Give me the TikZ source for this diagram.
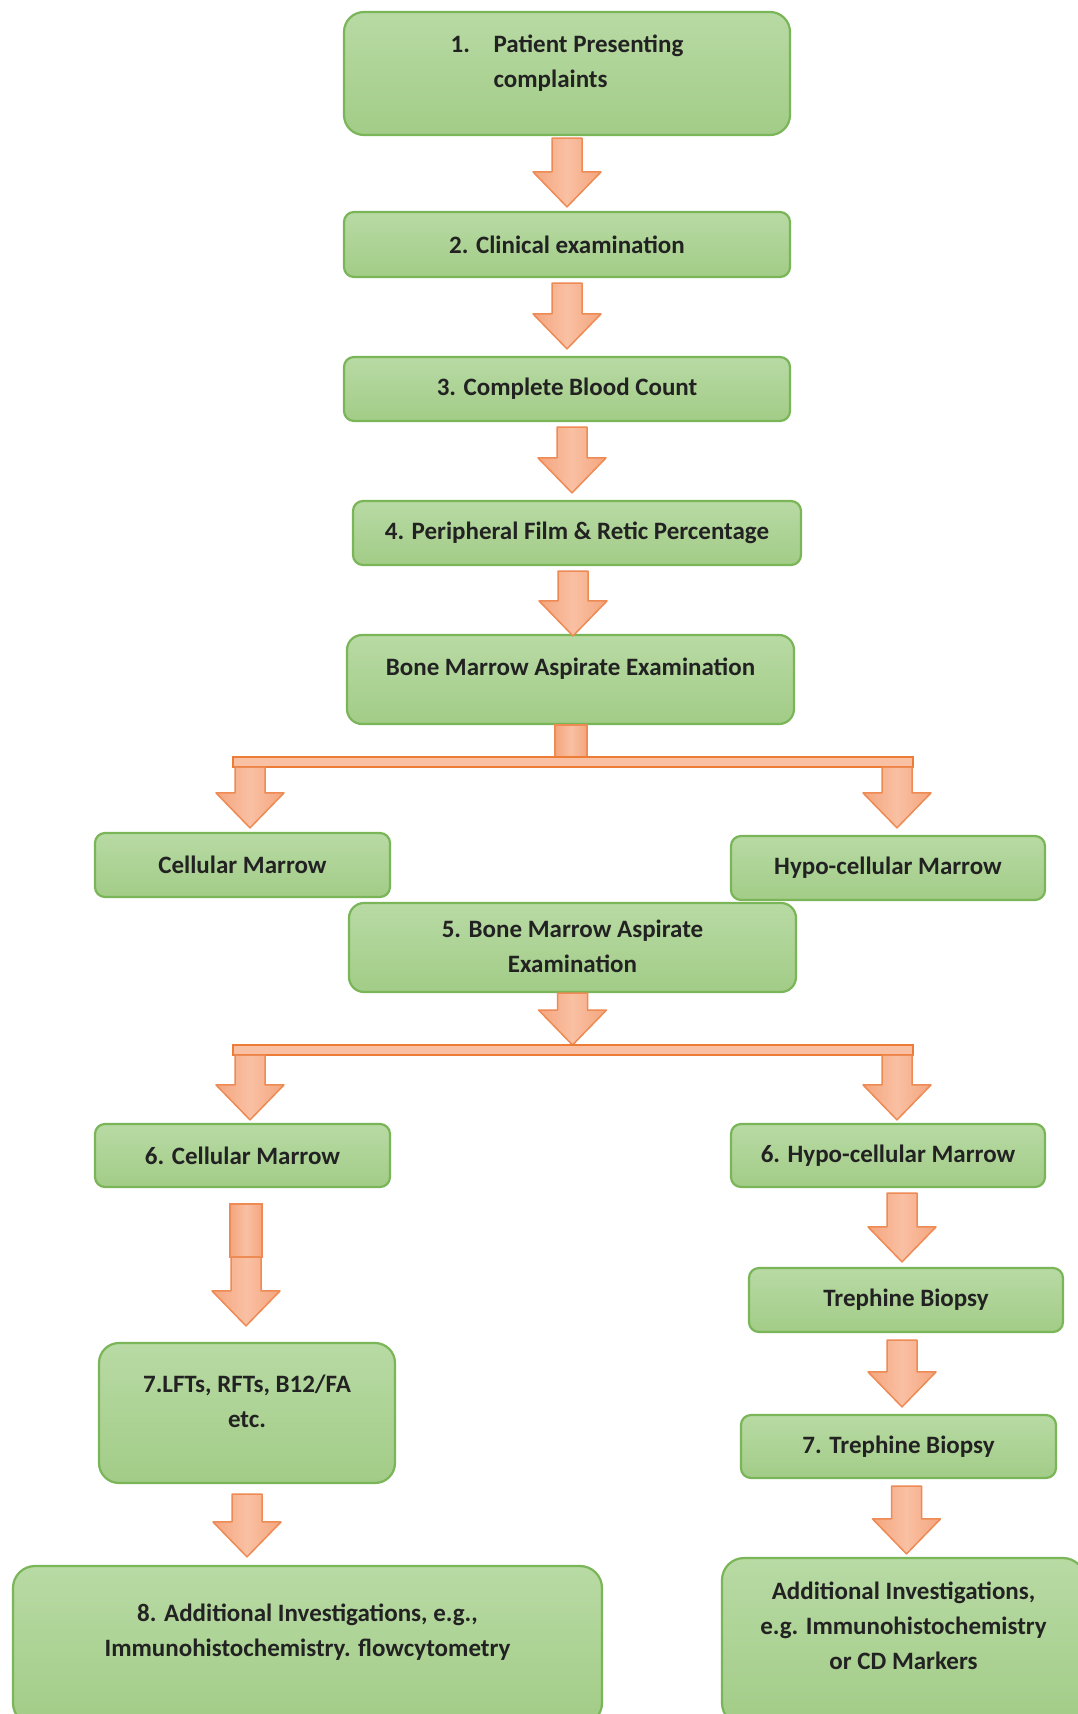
\documentclass[tikz,border=0pt]{standalone}
\usepackage{fontspec}
\setmainfont{Carlito}
\usetikzlibrary{calc}

\definecolor{boxtop}{HTML}{B8DAA4}
\definecolor{boxbot}{HTML}{A2CC87}
\definecolor{boxline}{HTML}{7AB558}
\definecolor{boxtext}{HTML}{222222}
\definecolor{arrowside}{HTML}{F4A57D}
\definecolor{arrowmid}{HTML}{F9C0A3}
\definecolor{arrowline}{HTML}{EE8A54}
\definecolor{barline}{HTML}{EC7C36}

\newcommand{\liftup}[2]{\raisebox{#1}[\height][\depth]{#2}}

\tikzset{
	flowbox/.style={draw=boxline, line width=2.2pt, rounded corners=10pt,
		top color=boxtop, bottom color=boxbot, text=boxtext, inner sep=0pt,
		font=\fontsize{25}{35}\selectfont\bfseries},
	bigarrow/.style={draw=arrowline, line width=1.5pt, line join=round,
		left color=arrowside, right color=arrowside, middle color=arrowmid,
		to path={let \p1=(\tikztostart), \p2=(\tikztotarget) in
			(\x1-15pt,\y1) -- (\x1+15pt,\y1) -- (\x1+15pt,\y2+35pt) -- (\x1+34pt,\y2+35pt)
			-- (\x1,\y2) -- (\x1-34pt,\y2+35pt) -- (\x1-15pt,\y2+35pt) -- cycle}},
	stem/.style={draw=arrowline, line width=1.5pt,
		left color=arrowside, right color=arrowside, middle color=arrowmid,
		to path={let \p1=(\tikztostart), \p2=(\tikztotarget) in
			(\x1-16pt,\y1) rectangle (\x1+16pt,\y2)}},
	splitbar/.style={draw=barline, line width=2.6pt, fill=arrowmid},
}

\begin{document}
\begin{tikzpicture}[x=1pt, y=-1pt]
	
	% Frame
	\useasboundingbox (0,0) rectangle (1078,1714);
	\clip (0,0) rectangle (1078,1714);
	\fill[white] (0,0) rectangle (1078,1714);
	
	%% MAIN COLUMN
	\node[flowbox, rounded corners=20pt, minimum width=446pt, minimum height=123pt] (patient) at (567,73.5)
		{\liftup{11pt}{\begin{tabular}{@{}l@{}}\makebox[43pt][l]{1.}Patient Presenting\\\hspace*{43pt}complaints\end{tabular}}};
	\node[flowbox, minimum width=446pt, minimum height=65pt] (clinical) at (567,244.5) {2. Clinical examination};
	\node[flowbox, minimum width=446pt, minimum height=64pt] (cbc) at (567,389) {3. Complete Blood Count};
	\node[flowbox, minimum width=448pt, minimum height=64pt] (film) at (577,533) {4. Peripheral Film \& Retic Percentage};
	\node[flowbox, rounded corners=15pt, minimum width=447pt, minimum height=89pt] (bma) at (570.5,679.5)
		{\liftup{11pt}{Bone Marrow Aspirate Examination}};
	
	% First split
	\node[flowbox, minimum width=295pt, minimum height=64pt] (cellA) at (242.5,865) {Cellular Marrow};
	\node[flowbox, minimum width=314pt, minimum height=64pt] (hypoA) at (888,868) {Hypo-cellular Marrow};
	\node[flowbox, rounded corners=15pt, minimum width=447pt, minimum height=89pt] (bmaB) at (572.5,947.5)
		{\begin{tabular}{@{}c@{}}5. Bone Marrow Aspirate\\Examination\end{tabular}};
	
	% Second split
	\node[flowbox, minimum width=295pt, minimum height=63pt] (cellB) at (242.5,1155.5) {6. Cellular Marrow};
	\node[flowbox, minimum width=314pt, minimum height=63pt] (hypoB) at (888,1155.5) {6. Hypo-cellular Marrow};
	
	% Left branch
	\node[flowbox, rounded corners=20pt, minimum width=296pt, minimum height=140pt] (lfts) at (247,1413)
		{\liftup{10pt}{\begin{tabular}{@{}c@{}}7.LFTs, RFTs, B12/FA\\etc.\end{tabular}}};
	\node[flowbox, rounded corners=22pt, minimum width=589pt, minimum height=159pt] (addL) at (307.5,1645.5)
		{\liftup{14pt}{\begin{tabular}{@{}c@{}}8. Additional Investigations, e.g.,\\Immunohistochemistry. flowcytometry\end{tabular}}};
	
	% Right branch
	\node[flowbox, minimum width=314pt, minimum height=64pt] (trephA) at (906,1300) {Trephine Biopsy};
	\node[flowbox, minimum width=315pt, minimum height=63pt] (trephB) at (898.5,1446.5) {7. Trephine Biopsy};
	\node[flowbox, rounded corners=22pt, minimum width=363pt, minimum height=167pt] (addR) at (903.5,1641.5)
		{\liftup{14pt}{\begin{tabular}{@{}c@{}}Additional Investigations,\\e.g. Immunohistochemistry\\or CD Markers\end{tabular}}};
	
	%% ARROWS
	% Main column
	\draw[bigarrow] ([yshift=-2pt]patient.south) to ([yshift=4pt]clinical.north);
	\draw[bigarrow] ([yshift=-5pt]clinical.south) to ([yshift=7pt]cbc.north);
	\draw[bigarrow] ([xshift=5pt,yshift=-5pt]cbc.south) to ([yshift=7pt]film.north);
	\draw[bigarrow] ([xshift=-4pt,yshift=-5pt]film.south) to ([yshift=-2pt]bma.north);
	
	% First split
	\coordinate (splitA) at (571,758);
	\draw[stem] (bma.south -| splitA) to (splitA);
	\draw[splitbar] (233,757) rectangle (913,767);
	\coordinate (dropAL) at (250,767);
	\coordinate (dropAR) at (897,767);
	\draw[bigarrow] (dropAL) to ([yshift=4pt]cellA.north);
	\draw[bigarrow] (dropAR) to ([yshift=7pt]hypoA.north);
	
	% Second split
	\coordinate (splitB) at (572,1045);
	\draw[bigarrow] (bmaB.south) to (splitB);
	\draw[splitbar] (233,1045) rectangle (913,1055);
	\coordinate (dropBL) at (250,1055);
	\coordinate (dropBR) at (897,1055);
	\draw[bigarrow] (dropBL) to ([yshift=3pt]cellB.north);
	\draw[bigarrow] (dropBR) to ([yshift=3pt]hypoB.north);
	
	% Left branch
	\coordinate (knee) at (246,1257);
	\draw[stem] ([yshift=-16pt]cellB.south -| knee) to (knee);
	\draw[bigarrow] (knee) to ([yshift=16pt]lfts.north);
	\draw[bigarrow] ([yshift=-10pt]lfts.south) to ([yshift=8pt]addL.north);
	
	% Right branch
	\draw[bigarrow] ([xshift=14pt,yshift=-5pt]hypoB.south) to ([yshift=5pt]trephA.north);
	\draw[bigarrow] ([xshift=-4pt,yshift=-7pt]trephA.south) to ([yshift=7pt]trephB.north);
	\draw[bigarrow] ([xshift=8pt,yshift=-7pt]trephB.south) to ([yshift=3pt]addR.north);
	
\end{tikzpicture}
\end{document}
